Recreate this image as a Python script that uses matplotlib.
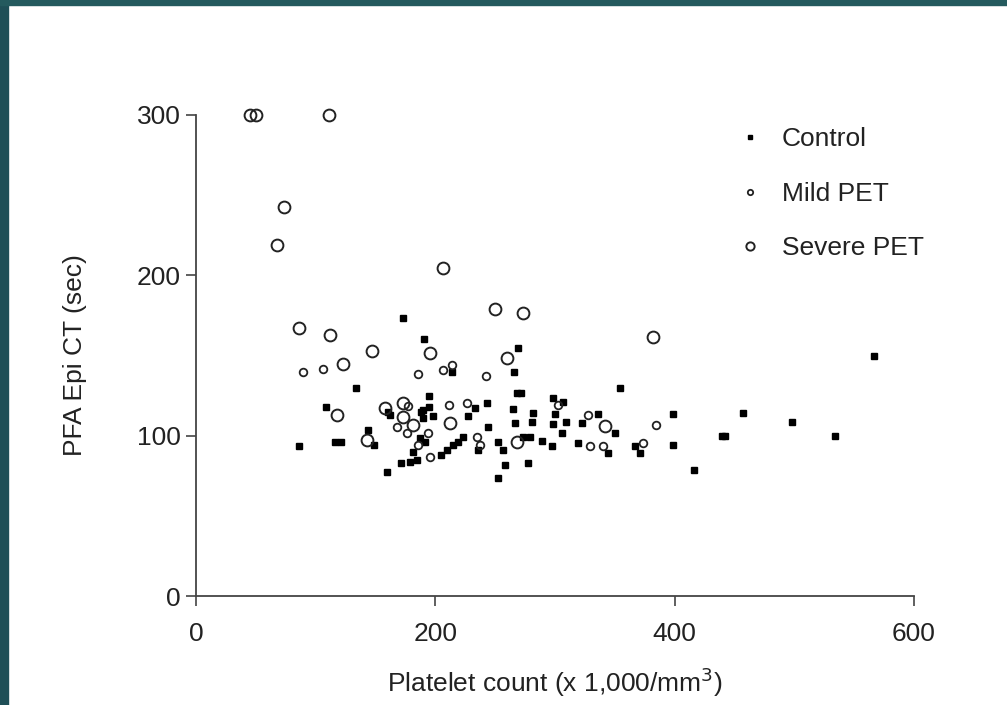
import matplotlib.pyplot as plt
from matplotlib.patches import Rectangle

plt.rcParams['font.family'] = ['Liberation Sans', 'DejaVu Sans']

# platelet count (x1000/mm3), PFA Epi CT (sec)
control_x = [86.0, 116.1, 121.1, 108.6, 133.7, 143.7, 148.7, 159.6, 172.9, 190.5,
             213.9, 269.0, 265.7, 194.7, 243.1, 268.2, 271.5, 233.1, 227.2, 243.9,
             264.8, 266.5, 162.1, 189.6, 194.7, 198.0, 189.6, 187.1, 191.3, 223.1,
             218.9, 214.7, 209.7, 204.7, 181.3, 178.8, 184.6, 171.3, 252.3, 256.5,
             258.1, 252.3, 273.2, 277.4, 354.2, 298.2, 306.6, 281.5, 280.7, 299.9,
             298.2, 309.1, 305.8, 322.5, 335.8, 350.0, 398.5, 398.5, 279.0, 289.1,
             297.4, 319.1, 344.2, 366.8, 370.9, 566.4, 457.0, 439.4, 442.0, 497.9,
             533.8, 416.0, 188.0, 235.6, 160.4]
control_y = [93.6, 96.1, 96.1, 117.9, 129.8, 103.6, 94.2, 77.4, 173.4, 160.3,
             139.7, 154.7, 139.7, 124.8, 120.4, 126.6, 126.6, 117.3, 112.3, 105.4,
             116.7, 107.9, 112.9, 116.0, 117.9, 112.3, 111.0, 98.6, 96.1, 99.2,
             96.1, 94.2, 91.1, 88.0, 89.8, 83.6, 84.8, 83.0, 96.1, 91.1,
             81.7, 73.6, 99.2, 83.0, 129.8, 123.5, 121.0, 114.2, 108.5, 113.5,
             107.3, 108.5, 101.7, 107.9, 113.5, 101.7, 113.5, 94.2, 99.2, 96.7,
             93.6, 95.4, 89.2, 93.6, 89.2, 149.7, 114.2, 99.8, 99.8, 108.5,
             99.8, 78.6, 114.8, 91.1, 114.8]

mild_x = [89.4, 106.1, 185.5, 206.3, 213.9, 242.3, 211.4, 226.4, 177.1, 167.9,
          176.3, 193.8, 185.5, 195.5, 234.8, 237.3, 302.4, 327.5, 384.3, 329.2,
          340.0, 373.4]
mild_y = [139.7, 141.6, 138.5, 141.0, 144.1, 137.2, 119.2, 120.4, 118.5, 105.4,
          101.7, 101.7, 94.2, 86.7, 99.2, 94.2, 119.2, 112.9, 106.7, 93.6,
          93.6, 95.4]

severe_x = [45.1, 50.1, 111.1, 73.5, 67.7, 86.0, 111.9, 147.0, 122.8, 117.8,
            142.9, 206.3, 195.5, 249.8, 273.2, 259.8, 381.8, 172.9, 157.9, 172.9,
            181.3, 212.2, 268.2, 341.7]
severe_y = [300, 300, 300, 242.7, 219.0, 167.2, 162.8, 152.8, 144.7, 112.9,
            97.3, 204.6, 151.6, 179.0, 176.5, 148.5, 161.6, 120.4, 117.3, 111.7,
            106.7, 107.9, 96.1, 106.1]

fig = plt.figure(figsize=(10.07, 7.05), dpi=100)
fig.patch.set_facecolor('white')
# dark teal frame of the slide
fig.add_artist(Rectangle((0, 0), 8 / 1007, 1, transform=fig.transFigure, color='#1f4f57', zorder=0))
fig.add_artist(Rectangle((0, 1 - 5 / 705), 1, 5 / 705, transform=fig.transFigure, color='#245a5e', zorder=0))

ax = fig.add_axes([0.1946, 0.1546, 0.713, 0.6823])
ax.plot(control_x, control_y, ls='none', marker='s', ms=4, mfc='black', mec='black',
        label='Control', clip_on=False)
ax.plot(mild_x, mild_y, ls='none', marker='o', ms=5.5, mfc='none', mec='#222222', mew=1.3,
        label='Mild PET', clip_on=False)
ax.plot(severe_x, severe_y, ls='none', marker='o', ms=8.5, mfc='none', mec='#222222', mew=1.4,
        label='Severe PET', clip_on=False)

ax.set_xlim(0, 600)
ax.set_ylim(0, 300)
ax.set_xticks([0, 200, 400, 600])
ax.set_yticks([0, 100, 200, 300])
ax.spines['top'].set_visible(False)
ax.spines['right'].set_visible(False)
for s in ['left', 'bottom']:
    ax.spines[s].set_color('#444444')
    ax.spines[s].set_linewidth(1.3)
ax.tick_params(direction='out', length=7, width=1.2, color='#444444',
               labelsize=19, labelcolor='#222222')
ax.tick_params(axis='x', pad=12)
ax.tick_params(axis='y', pad=4)

ax.set_xlabel('Platelet count (x 1,000/mm$^3$)', fontsize=19, color='#222222', labelpad=14)
ax.set_ylabel('PFA Epi CT (sec)', fontsize=19, color='#222222', labelpad=36)

ax.legend(loc='upper left', bbox_to_anchor=(0.7275, 1.024), frameon=False, fontsize=19,
          labelspacing=1.16, handlelength=0.6, handletextpad=0.9, markerscale=0.7,
          labelcolor='#222222')

plt.savefig('out.png', dpi=100)
